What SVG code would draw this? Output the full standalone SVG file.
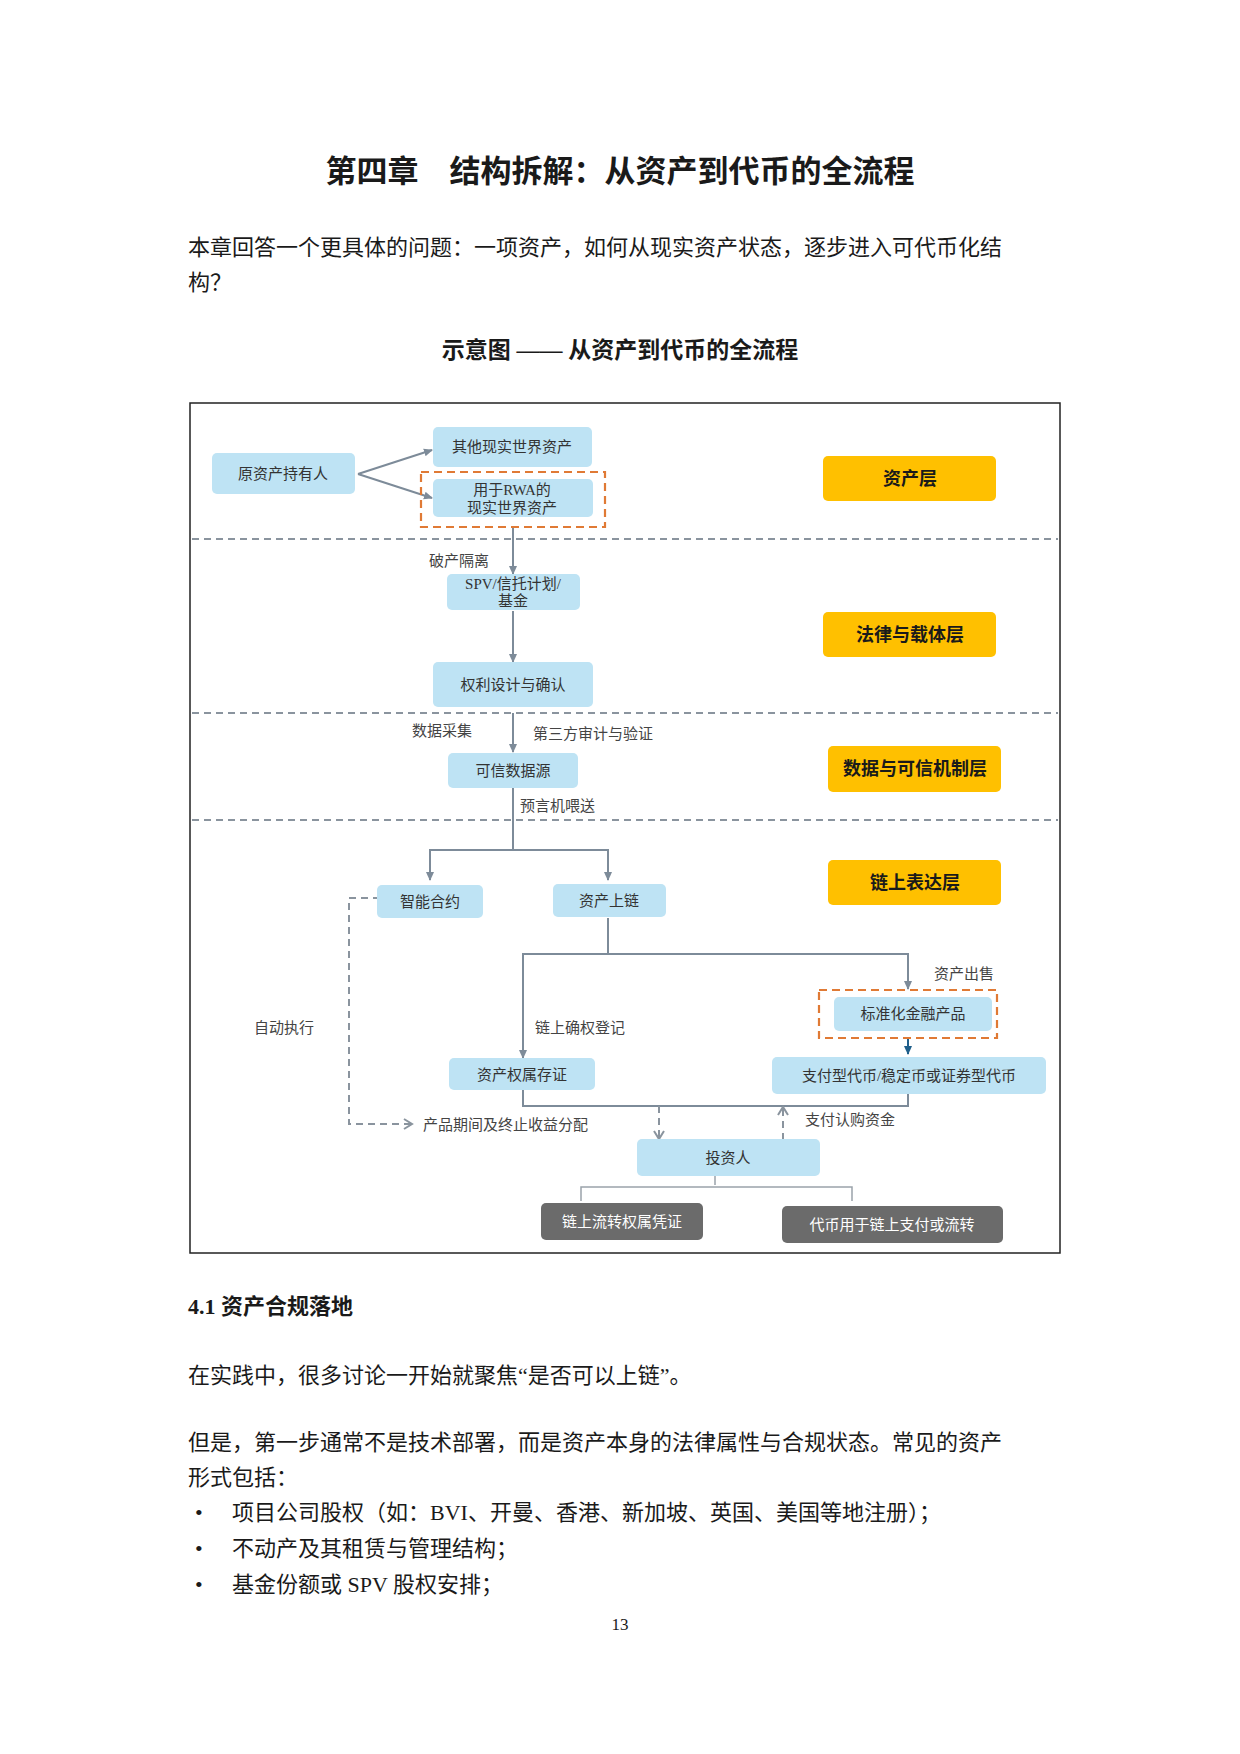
<svg xmlns="http://www.w3.org/2000/svg" width="1240" height="1754" viewBox="0 0 1240 1754">
<style>
text{font-family:"Liberation Serif","Noto Sans CJK SC",serif;fill:#1a1a1a}
.n{fill:#bee3f4}
.nt{font-size:15px;text-anchor:middle;fill:#333}
.l{fill:#ffc000}
.lt{font-size:18px;font-weight:bold;text-anchor:middle}
.d{fill:#6b6b6b}
.dt{font-size:15px;text-anchor:middle;fill:#fff}
.lab{font-size:15px;fill:#444}
.c{fill:none;stroke:#7d8b99;stroke-width:2}
.dash{fill:none;stroke:#8a949e;stroke-width:2;stroke-dasharray:7 5}
.od{fill:none;stroke:#e07a35;stroke-width:2.2;stroke-dasharray:8 5}
.body{font-size:22px}
</style>
<defs>
<marker id="a" markerWidth="10" markerHeight="10" refX="8" refY="5" orient="auto" markerUnits="userSpaceOnUse"><path d="M0,1 L9,5 L0,9 Z" fill="#7d8b99"/></marker>
<marker id="ab" markerWidth="10" markerHeight="10" refX="8" refY="5" orient="auto" markerUnits="userSpaceOnUse"><path d="M0,1 L9,5 L0,9 Z" fill="#1f5f8b"/></marker>
<marker id="o" markerWidth="12" markerHeight="12" refX="9" refY="6" orient="auto" markerUnits="userSpaceOnUse"><path d="M1,1 L9,6 L1,11" fill="none" stroke="#8a949e" stroke-width="2"/></marker>
</defs>
<rect width="1240" height="1754" fill="#fff"/>
<text x="620" y="182" font-size="31" font-weight="bold" text-anchor="middle">第四章　结构拆解：从资产到代币的全流程</text>
<text class="body" x="188" y="255">本章回答一个更具体的问题：一项资产，如何从现实资产状态，逐步进入可代币化结</text>
<text class="body" x="188" y="290">构？</text>
<text x="620" y="358" font-size="23" font-weight="bold" text-anchor="middle">示意图 —— 从资产到代币的全流程</text>

<rect x="190" y="403" width="870" height="850" fill="none" stroke="#222" stroke-width="1.5"/>
<g id="separators">
<line class="dash" x1="192" y1="539" x2="1058" y2="539"/>
<line class="dash" x1="192" y1="713" x2="1058" y2="713"/>
<line class="dash" x1="192" y1="820" x2="1058" y2="820"/>
</g>

<g id="connectors">
<path class="c" d="M358,474 L432,450" marker-end="url(#a)"/>
<path class="c" d="M358,474 L432,498" marker-end="url(#a)"/>
<path class="c" d="M513,528 L513,574" marker-end="url(#a)"/>
<path class="c" d="M513,611 L513,662" marker-end="url(#a)"/>
<path class="c" d="M513,713 L513,752" marker-end="url(#a)"/>
<path class="c" d="M513,786 L513,850 M430,850 L608,850"/>
<path class="c" d="M430,849 L430,880" marker-end="url(#a)"/>
<path class="c" d="M608,849 L608,880" marker-end="url(#a)"/>
<path class="c" d="M608,918 L608,954 M523,954 L908,954"/>
<path class="c" d="M523,953 L523,1058" marker-end="url(#a)"/>
<path class="c" d="M908,953 L908,989" marker-end="url(#a)"/>
<path d="M908,1038 L908,1054" stroke="#1f5f8b" stroke-width="2" marker-end="url(#ab)"/>
<path class="c" d="M523,1089 L523,1106 L908,1106 L908,1090"/>
<path class="dash" d="M659,1106 L659,1139" marker-end="url(#o)"/>
<path class="dash" d="M783,1140 L783,1107" marker-end="url(#o)"/>
<path class="dash" d="M380,898 L349,898 L349,1124 L412,1124" marker-end="url(#o)"/>
<path d="M715,1171 L715,1185 M581,1201 L581,1187 L852,1187 L852,1201" fill="none" stroke="#9aa3ab" stroke-width="1.5"/>
</g>
<text class="lab" x="429" y="566">破产隔离</text>
<text class="lab" x="412" y="736">数据采集</text>
<text class="lab" x="533" y="739">第三方审计与验证</text>
<text class="lab" x="520" y="811">预言机喂送</text>
<text class="lab" x="934" y="979">资产出售</text>
<text class="lab" x="535" y="1033">链上确权登记</text>
<text class="lab" x="254" y="1033">自动执行</text>
<text class="lab" x="423" y="1130">产品期间及终止收益分配</text>
<text class="lab" x="805" y="1125">支付认购资金</text>

<g id="n1"><rect class="n" x="212" y="453" width="143" height="41" rx="5"/><text class="nt" x="283" y="479">原资产持有人</text></g>
<g id="n2"><rect class="n" x="433" y="427" width="159" height="40" rx="5"/><text class="nt" x="512" y="452">其他现实世界资产</text></g>
<g id="n3"><rect class="n" x="433" y="479" width="160" height="38" rx="5"/><text class="nt" x="512" y="495">用于RWA的</text><text class="nt" x="512" y="513">现实世界资产</text>
<rect class="od" x="421" y="472" width="184" height="55"/></g>
<g id="n4"><rect class="n" x="447" y="574" width="133" height="36" rx="5"/><text class="nt" x="513" y="589">SPV/信托计划/</text><text class="nt" x="513" y="606">基金</text></g>
<g id="n5"><rect class="n" x="433" y="662" width="160" height="45" rx="5"/><text class="nt" x="513" y="690">权利设计与确认</text></g>
<g id="n6"><rect class="n" x="448" y="753" width="130" height="35" rx="5"/><text class="nt" x="513" y="776">可信数据源</text></g>
<g id="n7"><rect class="n" x="377" y="885" width="106" height="33" rx="5"/><text class="nt" x="430" y="907">智能合约</text></g>
<g id="n8"><rect class="n" x="553" y="884" width="113" height="33" rx="5"/><text class="nt" x="609" y="906">资产上链</text></g>
<g id="n9"><rect class="n" x="834" y="997" width="158" height="34" rx="5"/><text class="nt" x="913" y="1019">标准化金融产品</text>
<rect class="od" x="819" y="990" width="178" height="48"/></g>
<g id="n10"><rect class="n" x="449" y="1058" width="146" height="32" rx="5"/><text class="nt" x="522" y="1080">资产权属存证</text></g>
<g id="n11"><rect class="n" x="772" y="1057" width="274" height="37" rx="5"/><text class="nt" x="909" y="1081">支付型代币/稳定币或证券型代币</text></g>
<g id="n12"><rect class="n" x="637" y="1139" width="183" height="37" rx="5"/><text class="nt" x="728" y="1163">投资人</text></g>
<g id="n13"><rect class="d" x="541" y="1203" width="162" height="37" rx="5"/><text class="dt" x="622" y="1227">链上流转权属凭证</text></g>
<g id="n14"><rect class="d" x="782" y="1206" width="221" height="37" rx="5"/><text class="dt" x="892" y="1230">代币用于链上支付或流转</text></g>
<g id="L1"><rect class="l" x="823" y="456" width="173" height="45" rx="5"/><text class="lt" x="910" y="485">资产层</text></g>
<g id="L2"><rect class="l" x="823" y="612" width="173" height="45" rx="5"/><text class="lt" x="910" y="641">法律与载体层</text></g>
<g id="L3"><rect class="l" x="828" y="746" width="173" height="46" rx="5"/><text class="lt" x="915" y="775">数据与可信机制层</text></g>
<g id="L4"><rect class="l" x="828" y="860" width="173" height="45" rx="5"/><text class="lt" x="915" y="889">链上表达层</text></g>

<text x="188" y="1314" font-size="22" font-weight="bold">4.1  资产合规落地</text>
<text class="body" x="188" y="1383">在实践中，很多讨论一开始就聚焦“是否可以上链”。</text>
<text class="body" x="188" y="1450">但是，第一步通常不是技术部署，而是资产本身的法律属性与合规状态。常见的资产</text>
<text class="body" x="188" y="1485">形式包括：</text>
<text class="body" x="195" y="1520">•</text><text class="body" x="232" y="1520">项目公司股权（如：BVI、开曼、香港、新加坡、英国、美国等地注册）；</text>
<text class="body" x="195" y="1556">•</text><text class="body" x="232" y="1556">不动产及其租赁与管理结构；</text>
<text class="body" x="195" y="1592">•</text><text class="body" x="232" y="1592">基金份额或 SPV 股权安排；</text>
<text x="620" y="1630" font-size="17" text-anchor="middle">13</text>
</svg>
